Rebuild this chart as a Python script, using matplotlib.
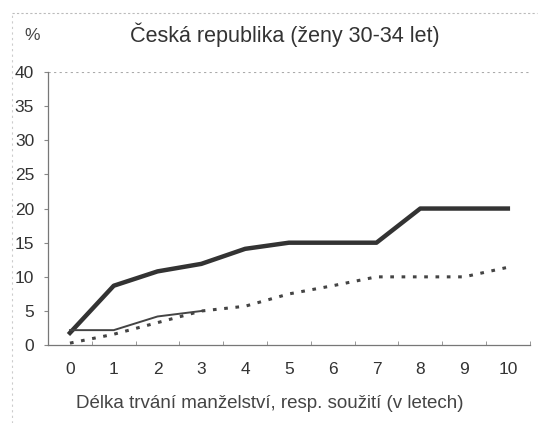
import matplotlib.pyplot as plt
import numpy as np

plt.rcParams['font.family'] = ['Liberation Sans', 'DejaVu Sans']

years = [0, 1, 2, 3, 4, 5, 6, 7, 8, 9, 10]
thick = [1.8, 8.7, 10.8, 11.9, 14.1, 15.0, 15.0, 15.0, 20.0, 20.0, 20.0]
thin_x = [0, 1, 2, 3]
thin = [2.2, 2.2, 4.2, 5.0]
dotted = [0.3, 1.6, 3.3, 5.0, 5.7, 7.5, 8.7, 10.0, 10.0, 10.0, 11.4]

fig = plt.figure(figsize=(5.4, 4.23), dpi=100)
ax = fig.add_axes([0.089, 0.184, 0.892, 0.646])

ax.plot(years, thick, color='#333333', lw=3.2, solid_joinstyle='round', zorder=3)
ax.plot(thin_x, thin, color='#444444', lw=1.4, zorder=3)
ax.plot(years, dotted, color='#444444', lw=2.2, linestyle=(0, (1.2, 2.5)), zorder=3)

ax.set_xlim(-0.5, 10.5)
ax.set_ylim(0, 40)
ax.set_yticks(np.arange(0, 41, 5))
ax.set_xticks(years)
ax.set_xticks(np.arange(-0.5, 10.6, 1), minor=True)
ax.tick_params(axis='x', which='major', length=0, pad=12, labelsize=12.5, colors='#333333')
ax.tick_params(axis='x', which='minor', length=3, direction='in', color='#888888')
ax.tick_params(axis='y', length=3, direction='out', color='#888888', labelsize=12.5,
               labelcolor='#333333', pad=7)

ax.axhline(40, color='#aaaaaa', lw=0.8, linestyle=(0, (2, 3)))
for s in ['top', 'right']:
    ax.spines[s].set_visible(False)
for s in ['left', 'bottom']:
    ax.spines[s].set_color('#777777')
    ax.spines[s].set_linewidth(0.9)

fig.text(0.527, 0.917, 'Česká republika (ženy 30-34 let)', ha='center', va='center',
         fontsize=15.5, color='#333333')
fig.text(0.06, 0.917, '%', ha='center', va='center', fontsize=12.5, color='#444444')
fig.text(0.5, 0.045, 'Délka trvání manželství, resp. soužití (v letech)', ha='center',
         va='center', fontsize=13.5, color='#444444')

# dotted frame round the chart
fig.add_artist(plt.Line2D([0.022, 0.995], [0.97, 0.97], transform=fig.transFigure,
                          color='#bbbbbb', lw=0.8, linestyle=(0, (2, 2))))
fig.add_artist(plt.Line2D([0.022, 0.022], [0.0, 0.97], transform=fig.transFigure,
                          color='#cccccc', lw=0.8, linestyle=(0, (2, 3))))

fig.savefig('out.png', dpi=100)
